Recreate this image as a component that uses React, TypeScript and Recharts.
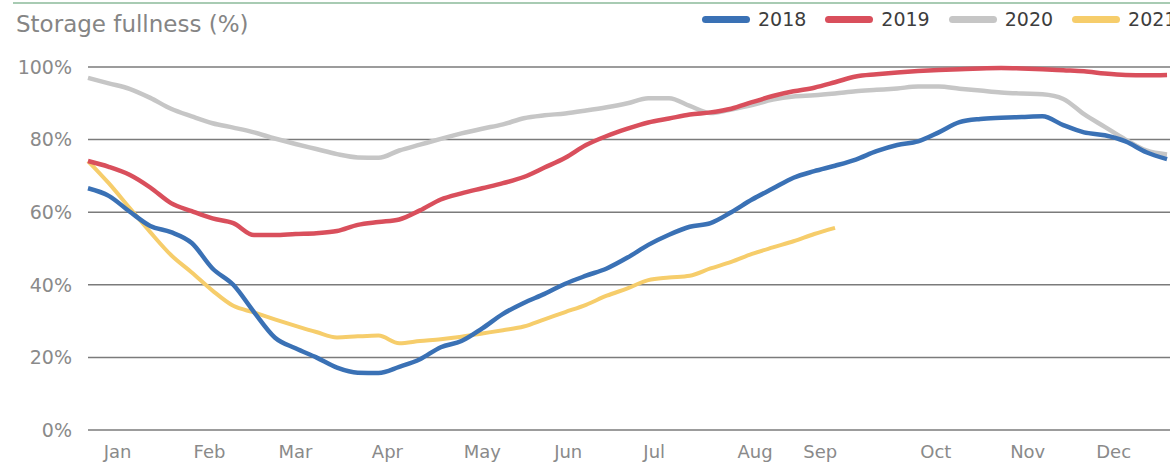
import { LineChart, Line, XAxis, YAxis, CartesianGrid, Legend } from "recharts"

// day of year, sampled weekly
const days = [
  0, 7, 14, 21, 28, 35, 42, 49, 56, 63, 70, 77, 84, 91, 98, 105, 112, 119, 126, 133, 140, 147, 154, 161, 168, 175,
  182, 189, 196, 203, 210, 217, 224, 231, 238, 245, 252, 259, 266, 273, 280, 287, 294, 301, 308, 315, 322, 329, 336,
  343, 350, 357, 364,
]

const fill2018 = [
  66.6, 64.5, 60.2, 56.2, 54.5, 51.5, 44.5, 40.0, 32.5, 25.5, 22.5, 20.0, 17.2, 15.8, 15.7, 17.4, 19.5, 22.8, 24.5,
  28.0, 32.0, 35.0, 37.5, 40.3, 42.5, 44.5, 47.5, 51.0, 53.8, 56.0, 57.0, 60.0, 63.5, 66.5, 69.5, 71.3, 72.8, 74.5,
  76.8, 78.5, 79.5, 82.0, 84.8, 85.7, 86.0, 86.2, 86.4, 84.0, 82.0, 81.2, 79.5, 76.5, 74.6,
]

const fill2019 = [
  74.1, 72.5, 70.3, 66.8, 62.5, 60.3, 58.3, 57.0, 53.7, 53.7, 54.0, 54.2, 54.8, 56.5, 57.3, 58.0, 60.5, 63.5, 65.2,
  66.6, 68.0, 69.7, 72.3, 75.0, 78.5, 81.0, 83.0, 84.7, 85.8, 86.9, 87.5, 88.5, 90.3, 92.0, 93.3, 94.3, 95.8, 97.4,
  98.0, 98.5, 98.9, 99.2, 99.4, 99.6, 99.7, 99.6, 99.4, 99.1, 98.8, 98.2, 97.8, 97.7, 97.8,
]

const fill2020 = [
  97.0, 95.5, 94.0, 91.5, 88.5, 86.4, 84.5, 83.3, 82.0, 80.3, 78.8, 77.4, 76.0, 75.1, 75.0, 77.0, 78.6, 80.2, 81.7,
  83.0, 84.2, 85.9, 86.7, 87.2, 88.0, 88.9, 90.0, 91.4, 91.4, 89.3, 87.3, 88.3, 89.5, 91.0, 91.9, 92.2, 92.7, 93.3,
  93.7, 94.1, 94.6, 94.6, 94.0, 93.5, 93.0, 92.7, 92.5, 91.2, 87.0, 83.5, 80.0, 77.0, 75.9,
]

// 2021 stops early September
const fill2021 = [
  74.1, 68.0, 61.2, 54.5, 48.2, 43.4, 38.4, 34.2, 32.4, 30.5, 28.7, 27.0, 25.5, 25.8, 26.0, 23.9, 24.5, 25.0, 25.7,
  26.6, 27.5, 28.5, 30.5, 32.5, 34.5, 37.0, 39.0, 41.3, 42.0, 42.5, 44.5, 46.3, 48.5, 50.3, 52.0, 54.0, 55.7,
]

const monthTicks = [10, 41, 70, 101, 133, 162, 191, 225, 247, 286, 317, 346]
const monthLabels = ["Jan", "Feb", "Mar", "Apr", "May", "Jun", "Jul", "Aug", "Sep", "Oct", "Nov", "Dec"]
const yTicks = [0, 20, 40, 60, 80, 100]

const series = [
  { key: "y2018", name: "2018", color: "#3a71b5" },
  { key: "y2019", name: "2019", color: "#d94f5c" },
  { key: "y2020", name: "2020", color: "#c6c6c6" },
  { key: "y2021", name: "2021", color: "#f6cd6b" },
]

const data = days.map((day, i) => ({
  day,
  y2018: fill2018[i],
  y2019: fill2019[i],
  y2020: fill2020[i],
  y2021: i < fill2021.length ? fill2021[i] : null,
}))

const font = "'DejaVu Sans', sans-serif"

function LegendRow() {
  return (
    <div style={{ display: "flex", alignItems: "center", fontFamily: font, whiteSpace: "nowrap" }}>
      {series.map((s) => (
        <div key={s.key} style={{ display: "flex", alignItems: "center", marginRight: 19 }}>
          <span
            style={{ width: 48, height: 7, borderRadius: 4, background: s.color, display: "inline-block", marginRight: 8 }}
          />
          <span style={{ fontSize: 19, color: "#3d3d3d" }}>{s.name}</span>
        </div>
      ))}
    </div>
  )
}

export default function App() {
  return (
    <div style={{ position: "relative", width: 1170, height: 465, overflow: "hidden", background: "#fff" }}>
      <style>{`body { margin: 0; }`}</style>
      <div style={{ position: "absolute", top: 2, left: 13, right: 0, height: 2, background: "#a8cbb3" }} />
      <div
        style={{
          position: "absolute",
          top: 11,
          left: 16,
          fontFamily: font,
          fontSize: 23,
          lineHeight: "26px",
          color: "#858585",
        }}
      >
        Storage fullness (%)
      </div>
      <LineChart width={1170} height={465} data={data} margin={{ top: 67, right: 0, bottom: 0, left: 0 }}>
        <CartesianGrid vertical={false} stroke="#7b7b7b" strokeWidth={1.5} />
        <XAxis
          dataKey="day"
          type="number"
          domain={[0, 365]}
          ticks={monthTicks}
          tickFormatter={(v: number) => monthLabels[monthTicks.indexOf(v)]}
          axisLine={false}
          tickLine={false}
          height={35}
          tickMargin={9}
          tick={{ fill: "#8a8a8a", fontSize: 18, fontFamily: font }}
          interval={0}
        />
        <YAxis
          domain={[0, 100]}
          ticks={yTicks}
          tickFormatter={(v: number) => `${v}%`}
          axisLine={false}
          tickLine={false}
          width={88}
          tickMargin={10}
          tick={{ fill: "#8a8a8a", fontSize: 19, fontFamily: font }}
        />
        <Legend
          layout="horizontal"
          verticalAlign="middle"
          align="center"
          wrapperStyle={{ position: "absolute", top: 8, left: 702, width: 600, height: 24 }}
          content={() => <LegendRow />}
        />
        <Line type="monotone" dataKey="y2020" stroke="#c6c6c6" strokeWidth={4.5} dot={false} isAnimationActive={false} />
        <Line type="monotone" dataKey="y2021" stroke="#f6cd6b" strokeWidth={4} dot={false} isAnimationActive={false} />
        <Line type="monotone" dataKey="y2019" stroke="#d94f5c" strokeWidth={4.5} dot={false} isAnimationActive={false} />
        <Line type="monotone" dataKey="y2018" stroke="#3a71b5" strokeWidth={4.5} dot={false} isAnimationActive={false} />
      </LineChart>
    </div>
  )
}
